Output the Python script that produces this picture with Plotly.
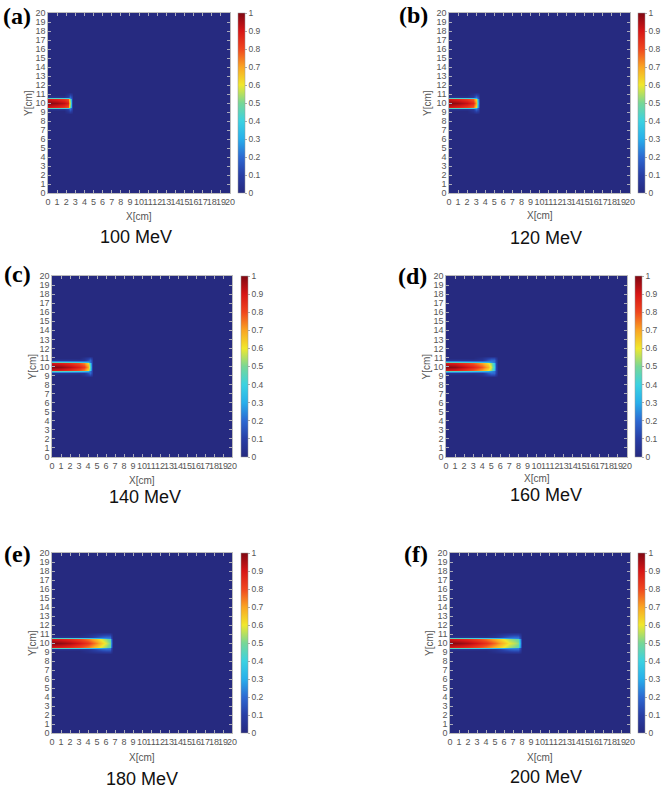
import numpy as np
import plotly.graph_objects as go

W, H = 662, 788

# ---- data ----
ENERGIES = ["100 MeV", "120 MeV", "140 MeV", "160 MeV", "180 MeV", "200 MeV"]
PANEL_TAGS = ["(a)", "(b)", "(c)", "(d)", "(e)", "(f)"]
AXIS_TICKS = list(range(0, 21))
CBAR_TICKS = [0, 0.1, 0.2, 0.3, 0.4, 0.5, 0.6, 0.7, 0.8, 0.9, 1]

# lateral (Y) sample positions and relative profiles
Y_KNOTS = [0, 8.8, 9.1, 9.3, 9.45, 9.6, 10.0, 10.4, 10.55, 10.7, 10.9, 11.2, 20]
CORE_LAT = [0, 0, 0, 0.05, 0.45, 0.9, 1.0, 0.9, 0.45, 0.05, 0, 0, 0]
HALO_LAT = [0, 0, 0.12, 0.2, 0.22, 0.22, 0.22, 0.22, 0.22, 0.2, 0.12, 0, 0]

# depth (X) samples, core dose and distal halo weight per energy
X_A = [0, 1, 1.8, 2.2, 2.4, 2.6, 2.8, 20]
CORE_A = [1.0, 0.97, 0.93, 0.88, 0.55, 0.05, 0, 0]
HALO_A = [0, 0, 0, 0.5, 1, 0.5, 0, 0]

X_B = [0, 1, 2, 2.7, 3.0, 3.2, 3.4, 20]
CORE_B = [1.0, 0.97, 0.92, 0.86, 0.7, 0.3, 0, 0]
HALO_B = [0, 0, 0, 0.4, 1, 0.7, 0, 0]

X_C = [0, 1, 2, 3, 3.6, 4.0, 4.2, 4.4, 4.6, 20]
CORE_C = [1.0, 0.98, 0.94, 0.88, 0.82, 0.7, 0.45, 0.1, 0, 0]
HALO_C = [0, 0, 0, 0, 0.3, 0.7, 1, 0.5, 0, 0]

X_D = [0, 1, 2, 3, 4, 4.6, 5.0, 5.3, 5.5, 5.7, 20]
CORE_D = [1.0, 0.98, 0.93, 0.87, 0.78, 0.68, 0.58, 0.4, 0.1, 0, 0]
HALO_D = [0, 0, 0, 0, 0.3, 0.8, 1, 1, 0.5, 0, 0]

X_E = [0, 1, 2, 3, 4, 5, 5.6, 6.0, 6.4, 6.6, 6.8, 20]
CORE_E = [1.0, 0.98, 0.95, 0.9, 0.83, 0.72, 0.64, 0.58, 0.5, 0.25, 0, 0]
HALO_E = [0, 0, 0, 0, 0.3, 0.7, 0.9, 1, 1, 0.6, 0, 0]

X_F = [0, 1, 2, 3, 4, 5, 6, 6.6, 7.1, 7.5, 7.8, 8.0, 20]
CORE_F = [1.0, 0.98, 0.95, 0.9, 0.84, 0.76, 0.66, 0.6, 0.56, 0.52, 0.3, 0, 0]
HALO_F = [0, 0, 0, 0, 0, 0.3, 0.7, 0.9, 1, 1, 0.6, 0, 0]

PANELS = [(X_A, CORE_A, HALO_A), (X_B, CORE_B, HALO_B), (X_C, CORE_C, HALO_C),
          (X_D, CORE_D, HALO_D), (X_E, CORE_E, HALO_E), (X_F, CORE_F, HALO_F)]

# ---- layout geometry (pixels) ----
# plot boxes: (left, right, top, bottom)
BOXES = [(48, 230, 13, 193), (449, 630, 13, 193),
         (52, 232, 276, 457), (446, 627, 276, 457),
         (52, 232, 553, 733), (450, 630, 553, 733)]
CBAR_X = [238, 638, 241, 635, 241, 638]
TITLE_POS = [(136, 237), (546, 238), (145, 497), (546, 495), (142, 779), (546, 777)]
XLAB_Y = [217, 215, 480, 478, 757, 757]
YLAB_X = [28, 427, 32, 426, 32, 429]
TAG_POS = [(17, 16), (413, 15), (17, 274), (412, 276), (17, 554), (416, 554)]

JET = [
    [0.0, "rgb(38,42,128)"],
    [0.1, "rgb(40,62,165)"],
    [0.2, "rgb(45,105,210)"],
    [0.3, "rgb(40,175,235)"],
    [0.4, "rgb(60,210,225)"],
    [0.5, "rgb(120,215,150)"],
    [0.6, "rgb(240,232,45)"],
    [0.7, "rgb(250,165,35)"],
    [0.8, "rgb(240,70,30)"],
    [0.9, "rgb(215,22,22)"],
    [1.0, "rgb(128,8,18)"],
]

def px_x(p):
    return p / W

def px_y(p):
    return 1 - p / H

fig = go.Figure()
annotations = []
label_font = dict(family="Liberation Sans, Arial, sans-serif", size=9, color="#555")
cbar_font = dict(family="Liberation Sans, Arial, sans-serif", size=8.5, color="#555")

for k, ((xs, core, halo), box) in enumerate(zip(PANELS, BOXES)):
    l, r, t, b = box
    cl = np.array(CORE_LAT)[:, None] * np.array(core)[None, :]
    hl = np.array(HALO_LAT)[:, None] * np.array(halo)[None, :]
    z = np.maximum(cl, hl)
    sfx = "" if k == 0 else str(k + 1)
    fig.add_trace(go.Heatmap(
        x=xs, y=Y_KNOTS, z=z, zmin=0, zmax=1, zsmooth="best",
        colorscale=JET, xaxis="x" + sfx, yaxis="y" + sfx,
        colorbar=dict(
            x=px_x(CBAR_X[k]), xanchor="left", xpad=0,
            y=px_y((t + b) / 2), yanchor="middle", ypad=0,
            len=b - t, lenmode="pixels", thickness=7, thicknessmode="pixels",
            outlinewidth=0.5, outlinecolor="#999",
            tickvals=CBAR_TICKS, ticktext=[("%g" % v) for v in CBAR_TICKS],
            ticks="outside", ticklen=2, tickcolor="#aaa",
            tickfont=cbar_font,
        ),
        hoverinfo="skip",
    ))
    axcommon = dict(
        range=[0, 20], tickmode="array", tickvals=AXIS_TICKS,
        ticktext=[str(v) for v in AXIS_TICKS],
        ticks="inside", ticklen=3, tickcolor="#aab",
        showline=True, linecolor="#bbb", linewidth=0.5, mirror="ticks",
        showgrid=False, zeroline=False, tickfont=label_font,
        automargin=False, fixedrange=True,
    )
    fig.layout["xaxis" + sfx] = dict(axcommon, domain=[px_x(l), px_x(r)],
                                     anchor="y" + sfx, tickangle=0)
    fig.layout["yaxis" + sfx] = dict(axcommon, domain=[px_y(b), px_y(t)],
                                     anchor="x" + sfx)
    cx = (l + r) / 2
    annotations.append(dict(x=px_x(cx), y=px_y(XLAB_Y[k]), xref="paper", yref="paper",
                            text="X[cm]", showarrow=False, xanchor="center", yanchor="middle",
                            font=dict(family="Liberation Sans, Arial, sans-serif", size=10, color="#555")))
    annotations.append(dict(x=px_x(YLAB_X[k]), y=px_y((t + b) / 2), xref="paper", yref="paper",
                            text="Y[cm]", showarrow=False, textangle=-90,
                            xanchor="center", yanchor="middle",
                            font=dict(family="Liberation Sans, Arial, sans-serif", size=10, color="#555")))
    tx, ty = TITLE_POS[k]
    annotations.append(dict(x=px_x(tx), y=px_y(ty), xref="paper", yref="paper",
                            text=ENERGIES[k], showarrow=False, xanchor="center", yanchor="middle",
                            font=dict(family="Liberation Sans, Arial, sans-serif", size=18, color="#111")))
    gx, gy = TAG_POS[k]
    annotations.append(dict(x=px_x(gx), y=px_y(gy), xref="paper", yref="paper",
                            text="<b>" + PANEL_TAGS[k] + "</b>", showarrow=False,
                            xanchor="center", yanchor="middle",
                            font=dict(family="Liberation Serif, Times New Roman, serif", size=24, color="#000")))

fig.update_layout(
    width=W, height=H, margin=dict(l=0, r=0, t=0, b=0),
    paper_bgcolor="white", plot_bgcolor="white",
    showlegend=False, annotations=annotations,
)

fig.write_html("out.html", config={"displayModeBar": False},
               post_script="document.body.style.margin='0px';document.body.style.overflow='hidden';")
